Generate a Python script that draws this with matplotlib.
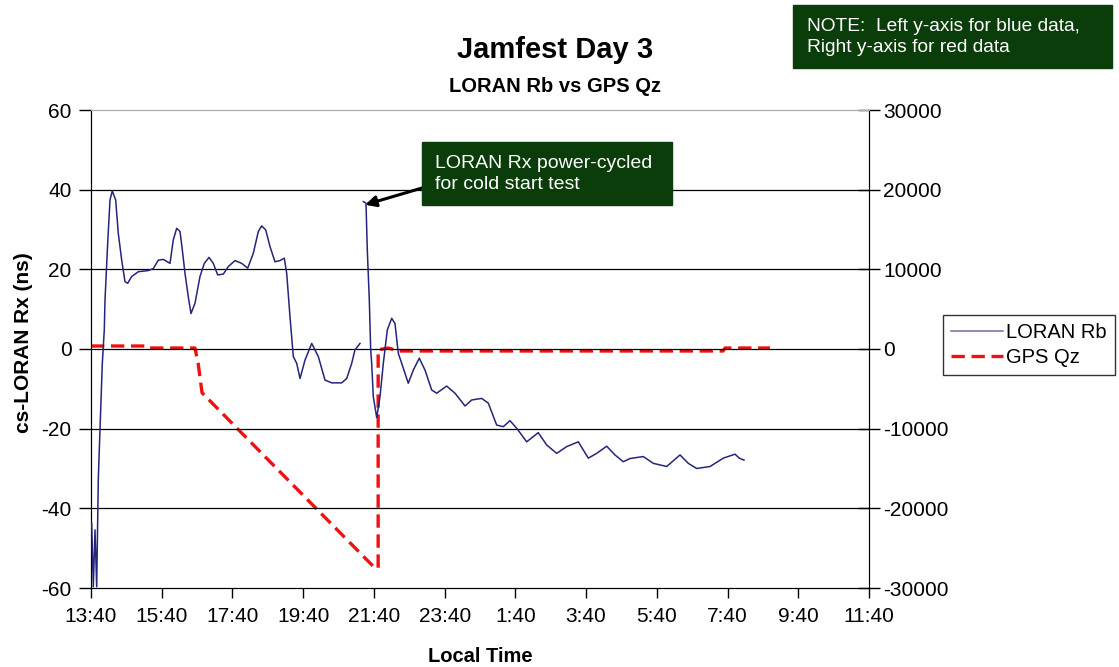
import matplotlib
matplotlib.use("Agg")
import matplotlib.pyplot as plt
import numpy as np

plt.rcParams['font.family'] = ['Liberation Sans', 'DejaVu Sans']
plt.rcParams['axes.unicode_minus'] = False

# hours since 13:40
x_labels = ["13:40", "15:40", "17:40", "19:40", "21:40", "23:40",
            "1:40", "3:40", "5:40", "7:40", "9:40", "11:40"]

loran_t = [0.020, 0.065, 0.113, 0.161, 0.206, 0.254, 0.320, 0.376, 0.396, 0.472,
           0.537, 0.602, 0.698, 0.772, 0.868, 0.961, 1.038, 1.151, 1.338, 1.620,
           1.762, 1.903, 2.044, 2.234, 2.327, 2.423, 2.517, 2.582, 2.658, 2.751,
           2.828, 2.941, 3.082, 3.204, 3.337, 3.458, 3.583, 3.741, 3.883, 4.072,
           4.261, 4.431, 4.589, 4.731, 4.827, 4.940, 5.062, 5.203, 5.344, 5.466,
           5.534, 5.627, 5.721, 5.817, 5.911, 6.051, 6.241, 6.428, 6.617, 6.806,
           7.089, 7.231, 7.372, 7.465, 7.607, np.nan,
           7.700, 7.776, 7.813, 7.870, 7.909, 7.937, 7.983, 8.079, 8.172, 8.266,
           8.379, 8.503, 8.596, 8.690, 8.786, 8.972, 9.114, 9.283, 9.445, 9.634,
           9.776, 10.058, 10.293, 10.576, 10.765, 11.048, 11.235, 11.472, 11.659,
           11.848, 12.038, 12.320, 12.648, 12.886, 13.169, 13.452, 13.780, 14.062,
           14.300, 14.583, 14.817, 15.052, 15.242, 15.618, 15.900, 16.279, 16.656,
           16.890, 17.128, 17.504, 17.880, 18.211, 18.332, 18.465]
loran_v = [-43.8, -59.7, -45.4, -59.7, -32.9, -20.3, -3.6, 4.8, 12.3, 26.6,
           37.4, 39.7, 37.4, 29.0, 22.3, 16.9, 16.5, 18.2, 19.4, 19.7,
           20.2, 22.3, 22.5, 21.5, 27.4, 30.3, 29.5, 24.9, 19.0, 13.1,
           8.9, 11.5, 18.2, 21.5, 23.0, 21.5, 18.6, 18.8, 20.7, 22.2,
           21.5, 20.3, 24.0, 29.5, 30.9, 29.9, 25.7, 21.9, 22.2, 22.8,
           19.0, 8.1, -1.9, -3.6, -7.4, -2.8, 1.4, -1.9, -7.8, -8.5,
           -8.5, -7.4, -3.6, -0.2, 1.4, np.nan,
           37.0, 36.6, 24.9, 12.3, -0.3, -3.6, -12.0, -17.2, -12.0, -3.6,
           4.8, 7.7, 6.4, -1.1, -3.6, -8.6, -5.3, -2.3, -5.3, -10.3,
           -11.1, -9.3, -11.1, -14.3, -12.8, -12.4, -13.6, -19.1, -19.5,
           -18.0, -19.9, -23.3, -21.0, -24.1, -26.2, -24.5, -23.3, -27.4,
           -26.2, -24.4, -26.6, -28.3, -27.5, -27.0, -28.7, -29.5, -26.6,
           -28.7, -30.0, -29.5, -27.4, -26.4, -27.4, -27.9]

gps_t = [0.0, 1.53, 1.58, 2.94, 3.03, 3.14, 8.03, 8.12, 8.12, 8.40, 8.71, 17.87, 17.93, 19.2]
gps_v = [375, 375, 125, 125, -1800, -5500, -27500, -27500, -100, 125, -250, -250, 125, 125]

fig = plt.figure(figsize=(11.19, 6.67), dpi=100)
ax = fig.add_axes([91/1119, 1-588/667, (869-91)/1119, (588-110)/667])
ax2 = ax.twinx()

ax.set_xlim(0, 22)
ax.set_ylim(-60, 60)
ax2.set_ylim(-30000, 30000)

for y in [40, 20, 0, -20, -40]:
    ax.axhline(y, color='black', lw=0.9, zorder=0)

l1, = ax.plot(loran_t, loran_v, color='#25257a', lw=1.1, label='LORAN Rb', zorder=3)
l2, = ax2.plot(gps_t, gps_v, color='#ee1111', lw=2.4, ls=(0, (4, 2)), label='GPS Qz', zorder=2)

ax.set_zorder(ax2.get_zorder() + 1)
ax.patch.set_visible(False)

ax.set_xticks(np.arange(0, 23, 2))
ax.set_xticklabels(x_labels)
ax.set_yticks([-60, -40, -20, 0, 20, 40, 60])
ax2.set_yticks([-30000, -20000, -10000, 0, 10000, 20000, 30000])

ax.tick_params(axis='x', direction='out', length=7, width=1, labelsize=15, pad=7)
ax.tick_params(axis='y', direction='out', length=9, width=1, labelsize=15, pad=5)
ax2.tick_params(axis='y', direction='inout', length=16, width=1, labelsize=15, pad=2)

for a in (ax, ax2):
    a.spines['top'].set_color('#aaaaaa')
    a.spines['left'].set_color('black')
    a.spines['right'].set_color('black')
    a.spines['bottom'].set_color('black')

ax.set_ylabel('cs-LORAN Rx (ns)', fontsize=15, fontweight='bold')
ax.yaxis.set_label_coords(-0.074, 0.514)
ax.set_xlabel('Local Time', fontsize=14.5, fontweight='bold', labelpad=15)

fig.text(555/1119, 1-50/667, 'Jamfest Day 3', ha='center', va='center',
         fontsize=21, fontweight='bold')
fig.text(555/1119, 1-86/667, 'LORAN Rb vs GPS Qz', ha='center', va='center',
         fontsize=14.5, fontweight='bold')

# note box
fig.patches.append(plt.Rectangle((793/1119, 1-68/667), (1112-793)/1119, 63/667,
                                 transform=fig.transFigure, color='#0b3d0b', zorder=1))
fig.text(807/1119, 1-37/667, 'NOTE:  Left y-axis for blue data,\nRight y-axis for red data',
         ha='left', va='center', fontsize=13.8, color='white', linespacing=1.35, zorder=2)

# annotation box
fig.patches.append(plt.Rectangle((422/1119, 1-205/667), (672-422)/1119, 63/667,
                                 transform=fig.transFigure, color='#0b3d0b', zorder=1))
fig.text(435/1119, 1-174/667, 'LORAN Rx power-cycled\nfor cold start test',
         ha='left', va='center', fontsize=14, color='white', linespacing=1.35, zorder=2)
ax.annotate('', xy=(7.75, 36.2), xycoords='data',
            xytext=(422/1119, 1-188/667), textcoords='figure fraction',
            arrowprops=dict(arrowstyle='-|>', color='black', lw=2.2,
                            mutation_scale=16, shrinkA=0, shrinkB=0))

leg = fig.legend(handles=[l1, l2], loc='upper left',
                 bbox_to_anchor=(943/1119, 1-315/667), fontsize=14.5,
                 frameon=True, fancybox=False, edgecolor='black',
                 handlelength=2.6, handletextpad=0.12, borderpad=0.4,
                 labelspacing=0.3, borderaxespad=0)
leg.get_frame().set_linewidth(1.0)
leg.get_lines()[0].set_color('#6f6fa0')

fig.savefig('out.png', dpi=100)
